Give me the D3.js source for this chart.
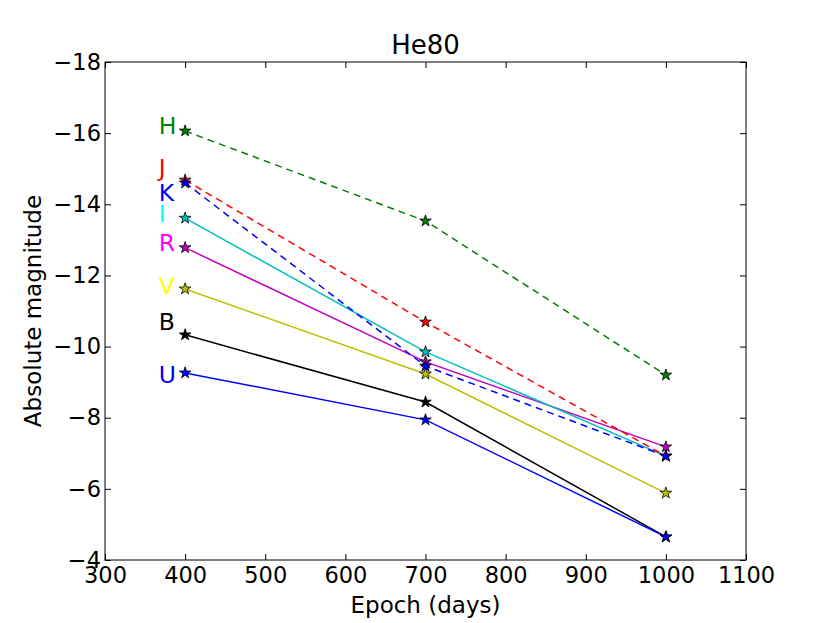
<!DOCTYPE html>
<html>
<head>
<meta charset="utf-8">
<script src="https://cdn.jsdelivr.net/npm/d3@7"></script>
<style>
  body { margin: 0; background: #fff; }
  svg { display: block; font-family: "DejaVu Sans", sans-serif; }
</style>
</head>
<body>
<svg width="830" height="623"></svg>
<script>
'use strict';

// epochs (days)
const EPOCHS = [400, 700, 1000];

// band names, drawing order
const BANDS = ['B', 'U', 'V', 'R', 'I', 'J', 'H', 'K'];

// absolute magnitudes per band at each epoch
const MAG_U = [-9.26, -7.94, -4.65];
const MAG_B = [-10.33, -8.44, -4.65];
const MAG_V = [-11.62, -9.23, -5.88];
const MAG_R = [-12.78, -9.57, -7.18];
const MAG_I = [-13.61, -9.85, -6.92];
const MAG_J = [-14.68, -10.69, -6.92];
const MAG_H = [-16.06, -13.53, -9.2];
const MAG_K = [-14.6, -9.45, -6.92];

// line colours, label colours, dashed flag
const LINE_COLORS = ['#000000', '#0000ff', '#bfbf00', '#bf00bf', '#00bfbf', '#ff0000', '#008000', '#0000ff'];
const LABEL_COLORS = ['#000000', '#0000ff', '#ffff00', '#ff00ff', '#00ffff', '#ff0000', '#008000', '#0000ff'];
const DASHED = [false, false, false, false, false, true, true, true];

// band label positions (data coordinates)
const LABEL_X = 367;
const LABEL_Y = [-10.47, -8.97, -11.47, -12.7, -13.5, -14.79, -15.98, -14.08];

const X_TICKS = [300, 400, 500, 600, 700, 800, 900, 1000, 1100];
const Y_TICKS = [-18, -16, -14, -12, -10, -8, -6, -4];

const MAGS = [MAG_B, MAG_U, MAG_V, MAG_R, MAG_I, MAG_J, MAG_H, MAG_K];

const svg = d3.select('svg');
const LEFT = 105, RIGHT = 746, TOP = 62, BOTTOM = 560;

const xScale = d3.scaleLinear().domain([300, 1100]).range([LEFT, RIGHT]);
const yScale = d3.scaleLinear().domain([-18, -4]).range([TOP, BOTTOM]);

const TICK_FONT = '22.5px';
const fmt = d3.format('d');

// axes, ticks pointing inwards on all sides
const xAxisB = d3.axisBottom(xScale).tickValues(X_TICKS).tickFormat(fmt).tickSizeInner(-6).tickSizeOuter(0).tickPadding(7);
const xAxisT = d3.axisTop(xScale).tickValues(X_TICKS).tickSizeInner(-6).tickSizeOuter(0).tickFormat('');
const yAxisL = d3.axisLeft(yScale).tickValues(Y_TICKS).tickFormat(fmt).tickSizeInner(-6).tickSizeOuter(0).tickPadding(4);
const yAxisR = d3.axisRight(yScale).tickValues(Y_TICKS).tickSizeInner(-6).tickSizeOuter(0).tickFormat('');

const styleAxis = (g) => {
    g.select('.domain').remove();
    g.selectAll('.tick line').attr('stroke', '#000').attr('stroke-width', 1);
    g.selectAll('.tick text').attr('fill', '#000').style('font-size', TICK_FONT).style('font-family', '"DejaVu Sans", sans-serif');
};

svg.append('g').attr('transform', `translate(0,${BOTTOM})`).call(xAxisB).call(styleAxis);
svg.append('g').attr('transform', `translate(0,${TOP})`).call(xAxisT).call(styleAxis);
svg.append('g').attr('transform', `translate(${LEFT},0)`).call(yAxisL).call(styleAxis);
svg.append('g').attr('transform', `translate(${RIGHT},0)`).call(yAxisR).call(styleAxis);

// series
const line = d3.line().x((d, i) => xScale(EPOCHS[i])).y((d) => yScale(d));
const star = d3.symbol().type(d3.symbolStar).size(42);

BANDS.forEach((band, k) => {
    svg.append('path')
        .attr('d', line(MAGS[k]))
        .attr('fill', 'none')
        .attr('stroke', LINE_COLORS[k])
        .attr('stroke-width', 1.5)
        .attr('stroke-dasharray', DASHED[k] ? '7,5' : null);

    svg.append('g').selectAll('path')
        .data(MAGS[k])
        .join('path')
        .attr('d', star)
        .attr('transform', (d, i) => `translate(${xScale(EPOCHS[i])},${yScale(d)})`)
        .attr('fill', LINE_COLORS[k])
        .attr('stroke', '#000')
        .attr('stroke-width', 0.8);

    svg.append('text')
        .attr('x', xScale(LABEL_X))
        .attr('y', yScale(LABEL_Y[k]))
        .attr('fill', LABEL_COLORS[k])
        .style('font-size', '23.5px')
        .text(band);
});

// frame
svg.append('rect')
    .attr('x', LEFT).attr('y', TOP)
    .attr('width', RIGHT - LEFT).attr('height', BOTTOM - TOP)
    .attr('fill', 'none').attr('stroke', '#000').attr('stroke-width', 1);

// titles
svg.append('text')
    .attr('x', (LEFT + RIGHT) / 2).attr('y', 54)
    .attr('text-anchor', 'middle')
    .style('font-size', '26px')
    .text('He80');

svg.append('text')
    .attr('x', (LEFT + RIGHT) / 2).attr('y', 613)
    .attr('text-anchor', 'middle')
    .style('font-size', '23px')
    .text('Epoch (days)');

svg.append('text')
    .attr('transform', `translate(41,${(TOP + BOTTOM) / 2}) rotate(-90)`)
    .attr('text-anchor', 'middle')
    .style('font-size', '23px')
    .text('Absolute magnitude');
</script>
</body>
</html>
